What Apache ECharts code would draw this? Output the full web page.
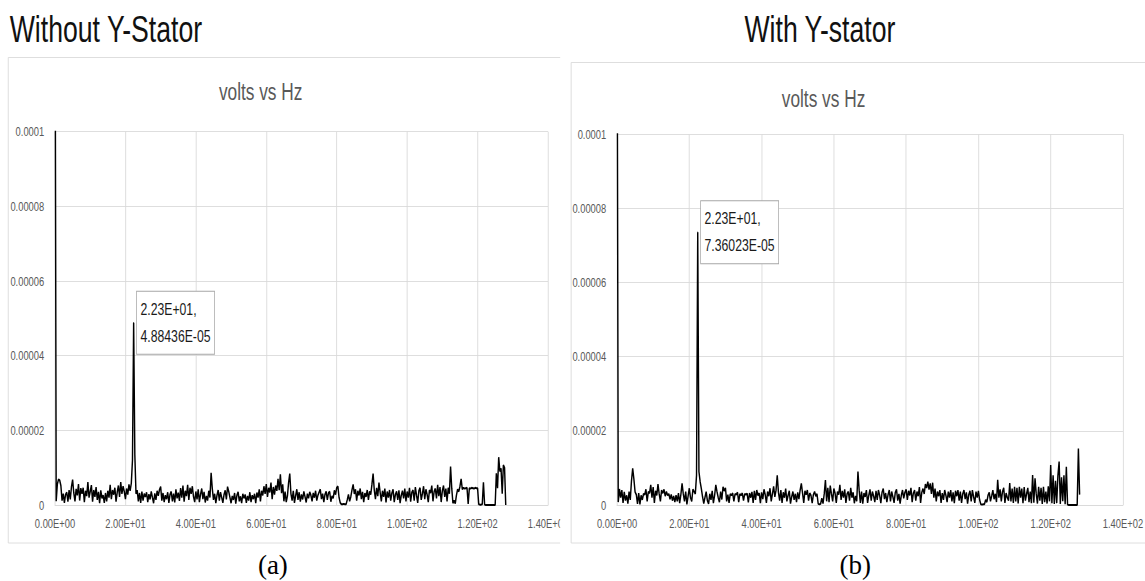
<!DOCTYPE html>
<html>
<head>
<meta charset="utf-8">
<script src="https://cdn.jsdelivr.net/npm/echarts@6/dist/echarts.min.js"></script>
<style>
  html, body { margin: 0; padding: 0; background: #fff; overflow: hidden; width: 1145px; height: 581px; }
  /* each panel is laid out wide and squeezed horizontally, like the narrow exported figure */
  .panel { position: absolute; top: 0; height: 581px; transform: scaleX(0.72); transform-origin: 0 0; }
  #without { left: 0; width: 778px; }
  #with { left: 560px; width: 813px; }
</style>
</head>
<body>
<div id="without" class="panel"></div>
<div id="with" class="panel"></div>
<script>
// Spectrum amplitude in microvolts, one value per FFT bin (bin width 1/3 Hz, 0 .. 128 Hz)
const FREQ_STEP_HZ = 1 / 3;

const withoutStatorMicroVolts = [
  150, 1.0, 5.6, 6.9, 6.6, 5.2, 1.2, 3.0, 0.6, 2.8, 3.4, 0.9, 4.0, 1.5, 4.8,
  6.8, 3.2, 1.0, 4.3, 2.6, 5.6, 1.2, 4.5, 3.0, 4.6, 0.8, 3.8, 2.4, 6.1, 2.0,
  3.6, 5.3, 0.9, 4.0, 2.2, 4.8, 1.4, 3.5, 0.5, 3.9, 1.8, 2.6, 0.6, 3.2, 1.0,
  3.8, 2.0, 5.4, 1.6, 4.0, 2.8, 4.6, 0.9, 3.4, 5.2, 2.2, 6.1, 3.0, 5.0, 3.6,
  1.6, 4.4, 2.8, 5.5, 3.8, 5.8, 12.0, 48.8436, 13.5, 3.0, 4.0, 1.0, 3.2, 0.6, 3.6,
  1.2, 3.0, 2.2, 3.4, 0.8, 2.9, 1.5, 3.6, 2.0, 0.5, 3.1, 1.4, 3.8, 2.5, 4.1,
  4.9, 1.2, 3.2, 0.8, 2.6, 1.6, 3.4, 0.6, 2.8, 3.6, 1.0, 3.0, 0.7, 4.2, 1.8,
  3.3, 1.1, 4.5, 2.0, 5.2, 0.9, 3.8, 2.4, 5.4, 1.4, 4.6, 3.0, 5.0, 2.2, 0.8,
  3.6, 1.5, 4.2, 0.8, 2.9, 4.4, 1.6, 3.5, 0.7, 2.4, 1.2, 3.8, 2.0, 8.6, 4.4,
  1.4, 3.0, 0.5, 2.6, 4.0, 1.2, 3.4, 2.0, 0.6, 2.8, 3.9, 1.5, 4.9, 3.6, 2.1,
  0.5, 2.4, 1.4, 3.2, 0.4, 2.6, 3.5, 1.0, 2.3, 0.5, 3.0, 1.8, 2.8, 0.6, 2.4,
  1.2, 3.4, 0.8, 2.6, 1.6, 3.0, 0.5, 3.3, 2.0, 4.2, 1.0, 3.8, 2.6, 5.0, 3.0,
  5.6, 2.2, 4.6, 3.4, 6.0, 1.6, 4.8, 2.8, 5.2, 3.8, 7.0, 4.0, 8.2, 3.2, 5.5,
  1.0, 3.6, 0.8, 2.4, 6.0, 8.4, 3.0, 1.2, 3.8, 0.6, 2.5, 4.2, 1.4, 3.4, 0.9,
  2.8, 1.5, 3.6, 2.2, 0.7, 3.0, 1.8, 3.5, 2.6, 1.0, 3.2, 2.0, 3.8, 1.2, 2.6,
  3.4, 4.2, 1.6, 3.0, 0.8, 2.8, 3.6, 1.4, 3.2, 3.6, 0.9, 2.4, 1.8, 3.9, 2.8,
  4.6, 5.0, 2.0, 0.6, 0.2, 0.2, 0.3, 0.2, 0.2, 1.4, 2.8, 1.0, 2.2, 4.0, 5.5,
  3.0, 4.2, 1.2, 3.8, 2.6, 4.4, 1.6, 3.5, 0.8, 3.2, 2.2, 4.0, 1.4, 3.6, 2.8,
  5.5, 8.4, 4.0, 1.6, 4.6, 2.4, 6.0, 3.4, 1.0, 3.8, 2.2, 4.4, 0.7, 3.6, 2.0,
  4.0, 1.2, 3.2, 4.2, 0.8, 2.8, 3.6, 1.4, 3.9, 0.5, 2.6, 3.8, 1.8, 4.4, 1.0,
  3.6, 2.0, 4.6, 0.9, 3.4, 4.0, 1.2, 4.8, 2.6, 0.6, 3.8, 4.6, 1.4, 3.0, 5.0,
  1.6, 4.2, 2.8, 0.8, 4.0, 3.2, 5.2, 1.0, 3.6, 4.4, 1.8, 5.4, 2.4, 4.8, 0.8,
  3.8, 5.2, 2.2, 4.4, 1.0, 4.6, 3.0, 10.3, 4.5, 0.5, 1.2, 0.4, 2.6, 4.2, 3.6,
  5.0, 7.0, 4.2, 4.6, 4.4, 4.5, 4.6, 0.3, 4.5, 4.4, 4.6, 4.5, 4.4, 4.6, 4.5,
  4.5, 0.2, 0.1, 0.1, 0.2, 6.1, 0.1, 0, 0, 0, 0, 0, 0, 0, 0,
  0, 8.5, 4.5, 12.8, 9.0, 9.8, 3.0, 10.7, 10.0, 0
];

const withStatorMicroVolts = [
  150, 0.8, 4.3, 2.0, 4.0, 0.6, 3.5, 1.2, 2.6, 0.4, 3.6, 1.4, 6.5, 9.9, 7.0,
  3.5, 2.8, 0.3, 3.2, 0.2, 2.6, 1.4, 3.0, 2.8, 4.2, 1.0, 3.6, 3.2, 5.4, 2.0,
  4.8, 0.6, 3.8, 2.6, 5.6, 3.0, 1.0, 4.0, 3.2, 4.2, 2.4, 3.6, 2.6, 3.0, 1.6,
  2.8, 1.2, 2.4, 0.8, 2.6, 1.0, 3.2, 0.5, 2.8, 5.8, 3.0, 1.0, 3.6, 0.2, 2.4,
  4.5, 2.0, 1.0, 4.2, 3.6, 3.0, 8.0, 73.6023, 9.0, 6.3, 4.4, 2.2, 0.4, 2.0, 3.6,
  1.2, 0.3, 3.0, 1.4, 3.8, 0.5, 2.6, 5.4, 3.6, 2.0, 0.8, 3.6, 1.5, 4.9, 3.8,
  4.6, 1.0, 2.8, 0.6, 3.0, 2.6, 3.2, 1.0, 3.0, 2.8, 3.4, 0.8, 3.0, 2.6, 3.2,
  1.2, 3.0, 2.8, 3.1, 0.7, 3.2, 2.0, 3.5, 0.6, 3.8, 1.4, 4.0, 2.6, 3.2, 0.5,
  3.4, 1.6, 4.2, 2.8, 0.6, 3.6, 2.4, 4.5, 1.0, 3.0, 5.0, 2.2, 4.0, 8.0, 3.4,
  1.2, 4.0, 0.6, 3.4, 2.0, 4.4, 1.0, 2.6, 3.8, 0.4, 2.2, 3.6, 1.4, 3.0, 0.8,
  3.4, 1.6, 4.0, 5.8, 3.2, 0.6, 3.8, 2.8, 4.0, 1.2, 3.2, 2.6, 0.5, 2.8, 3.6,
  2.4, 3.0, 0.3, 0.2, 0.3, 1.8, 0.4, 3.0, 6.7, 1.0, 4.6, 0.8, 5.2, 3.0, 1.0,
  4.4, 3.2, 0.6, 3.6, 2.8, 5.4, 1.4, 3.8, 2.0, 4.2, 0.6, 3.0, 3.6, 1.2, 4.6,
  2.0, 3.4, 0.5, 2.4, 1.0, 9.0, 4.0, 0.6, 3.6, 0.4, 3.2, 2.2, 4.0, 0.6, 2.6,
  4.2, 1.2, 3.6, 2.4, 0.8, 3.8, 1.4, 4.0, 2.6, 0.5, 3.4, 4.4, 1.6, 3.2, 0.8,
  2.8, 4.0, 1.0, 3.6, 2.2, 0.6, 3.4, 4.2, 1.2, 3.0, 0.4, 2.6, 4.0, 1.8, 3.4,
  4.2, 1.4, 3.8, 2.6, 4.6, 0.8, 3.2, 4.0, 1.2, 3.6, 2.4, 4.8, 0.6, 3.4, 4.4,
  3.0, 5.6, 4.6, 6.3, 4.2, 5.8, 3.0, 6.0, 2.0, 4.4, 1.0, 3.6, 2.4, 4.0, 0.6,
  3.2, 1.4, 4.0, 2.6, 0.8, 3.6, 2.0, 4.0, 1.0, 3.4, 0.5, 3.8, 2.4, 4.0, 1.2,
  3.6, 0.6, 3.0, 4.0, 1.6, 3.4, 0.4, 2.8, 3.8, 1.0, 4.0, 2.2, 0.6, 3.6, 2.0,
  3.8, 1.4, 0.2, 0.1, 0.2, 0.2, 1.4, 0.8, 2.6, 3.4, 1.0, 2.4, 4.0, 1.6, 3.0,
  0.8, 6.8, 2.0, 4.2, 1.0, 3.6, 4.6, 0.6, 3.2, 2.0, 1.2, 5.9, 1.0, 4.4, 0.6,
  4.9, 1.0, 4.6, 0.4, 4.9, 2.0, 4.4, 0.5, 4.8, 1.2, 3.0, 4.6, 0.8, 3.6, 0.5,
  8.1, 0.6, 7.2, 3.0, 0.4, 4.9, 1.2, 4.6, 0.3, 4.9, 0.8, 3.6, 0.4, 5.0, 1.0,
  10.8, 0.5, 8.0, 0.3, 6.5, 0.5, 8.0, 11.7, 0.3, 7.5, 1.0, 8.0, 0.2, 10.3, 0.1,
  0, 0, 0, 0, 0, 0, 0, 0, 15.2, 2.8
];

// Axis ranges (Hz, volts)
const X_MIN = 0, X_MAX = 140, X_STEP = 20;
const Y_MIN = 0, Y_MAX = 0.0001, Y_STEP = 0.00002;

const SANS = '"Liberation Sans", Arial, sans-serif';
const SERIF = '"Liberation Serif", "Times New Roman", serif';
const UNSQUEEZE = 1 / 0.72;

// Excel-style scientific notation: 2.23E+01, 4.88436E-05
function sci(v, digits) {
  return v.toExponential(digits).toUpperCase().replace(/E([+-])(\d)$/, 'E$10$2');
}

function peakIndex(values) {
  let best = 1;
  for (let i = 1; i < values.length; i++) if (values[i] > values[best]) best = i;
  return best;
}

function panelOption(p) {
  const peak = peakIndex(p.values);
  const data = p.values.map((uv, i) => {
    const point = [i * FREQ_STEP_HZ, uv / 1e6];
    if (i !== peak) return point;
    return { value: point, symbol: 'circle', symbolSize: 1, label: { show: true } };
  });

  return {
    animation: false,
    backgroundColor: 'transparent',
    graphic: [
      { type: 'rect', silent: true, z: -10,
        shape: { x: p.frame[0], y: p.frame[1], width: p.frame[2], height: p.frame[3] },
        style: { fill: '#fff', stroke: '#d9d9d9', lineWidth: 1 } },
      { type: 'text', silent: true, x: p.heading[0], y: p.heading[1],
        style: { text: p.headingText, font: '37px ' + SANS, fill: '#111',
                 textAlign: p.heading[2], align: p.heading[2],
                 textVerticalAlign: 'middle', verticalAlign: 'middle' } },
      { type: 'text', silent: true, x: p.title[0], y: p.title[1],
        style: { text: 'volts vs Hz', font: '24px ' + SANS, fill: '#595959',
                 textAlign: 'center', align: 'center',
                 textVerticalAlign: 'middle', verticalAlign: 'middle' } },
      { type: 'text', silent: true, x: p.caption[0], y: p.caption[1], scaleX: UNSQUEEZE,
        style: { text: p.captionText, font: '27px ' + SERIF, fill: '#000',
                 textAlign: 'center', align: 'center',
                 textVerticalAlign: 'middle', verticalAlign: 'middle' } }
    ],
    grid: {
      left: p.grid[0], top: p.grid[1], width: p.grid[2], height: p.grid[3],
      containLabel: false, outerBoundsMode: 'none'
    },
    xAxis: {
      type: 'value', min: X_MIN, max: X_MAX, interval: X_STEP,
      axisLine: { show: true, onZero: false, lineStyle: { color: '#d9d9d9', width: 1 } },
      axisTick: { show: false },
      splitLine: { show: true, lineStyle: { color: '#d9d9d9', width: 1 } },
      axisLabel: { color: '#595959', fontFamily: SANS, fontSize: 13, margin: 12,
                   showMinLabel: true, showMaxLabel: true,
                   formatter: v => sci(v, 2) }
    },
    yAxis: {
      type: 'value', min: Y_MIN, max: Y_MAX, interval: Y_STEP,
      axisLine: { show: false },
      axisTick: { show: false },
      splitLine: { show: true, lineStyle: { color: '#d9d9d9', width: 1 } },
      axisLabel: { color: '#595959', fontFamily: SANS, fontSize: 13, margin: 15,
                   formatter: v => (v === 0 ? '0' : String(parseFloat(v.toPrecision(6)))) }
    },
    series: [{
      type: 'line',
      data: data,
      symbol: 'none',
      clip: true,
      lineStyle: { color: '#000', width: 2 },
      itemStyle: { color: '#000' },
      emphasis: { disabled: true },
      label: {
        show: false, position: 'right', distance: 4,
        formatter: q => sci(q.value[0], 2) + ',\n' + sci(q.value[1], 5),
        fontFamily: SANS, fontSize: 17, lineHeight: 27, color: '#1a1a1a',
        backgroundColor: '#fff', borderColor: '#a6a6a6', borderWidth: 1,
        padding: [4, 5]
      }
    }]
  };
}

const panels = [
  { id: 'without', width: 778, values: withoutStatorMicroVolts,
    headingText: 'Without Y-Stator', heading: [13.5, 29, 'left'],
    title: [362, 91.5], captionText: '(a)', caption: [379, 565],
    frame: [11.5, 57.5, 820, 485.5],
    grid: [76.4, 131.7, 684.7, 373.3] },
  { id: 'with', width: 813, values: withStatorMicroVolts,
    headingText: 'With Y-stator', heading: [361, 29, 'center'],
    title: [366, 98.5], captionText: '(b)', caption: [410, 565],
    frame: [15.5, 62.5, 820, 480.5],
    grid: [79.2, 134.3, 702.7, 370.7] }
];

panels.forEach(p => {
  const chart = echarts.init(document.getElementById(p.id), null,
    { renderer: 'svg', width: p.width, height: 581 });
  chart.setOption(panelOption(p));
});
</script>
</body>
</html>
